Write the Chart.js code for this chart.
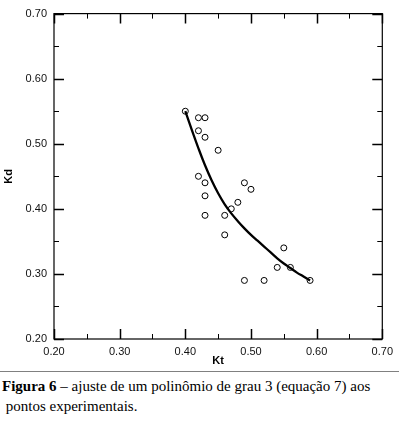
<!DOCTYPE html>
<html>
<head>
  <meta charset="utf-8">
  <title>Figura 6 - Kd x Kt</title>
  <script src="https://cdn.jsdelivr.net/npm/chart.js"></script>
  <style>
    body {
      margin: 0;
      background: #fff;
      width: 399px;
      height: 421px;
      overflow: hidden;
    }
    .chart-box {
      position: relative;
      width: 399px;
      height: 370px;
    }
    .rule {
      position: absolute;
      left: 0;
      top: 371px;
      width: 399px;
      height: 0;
      border-top: 1px solid #808080;
    }
    .caption {
      position: absolute;
      left: 2px;
      top: 376px;
      font-family: 'Liberation Serif', 'Times New Roman', 'DejaVu Serif', serif;
      font-size: 15px;
      line-height: 20px;
      color: #000;
      white-space: nowrap;
    }
  </style>
</head>
<body>
<div class="chart-box">
  <canvas id="fitChart"></canvas>
</div>
<div class="rule"></div>
<div class="caption">
  <b>Figura 6</b> – ajuste de um polinômio de grau 3 (equação 7) aos<br>
  &nbsp;pontos experimentais.
</div>

<script>
  // experimental points (Kt, Kd)
  const kt = [0.40, 0.42, 0.43, 0.42, 0.43, 0.45, 0.42, 0.43, 0.49, 0.50, 0.43,
              0.48, 0.47, 0.43, 0.46, 0.46, 0.55, 0.54, 0.56, 0.49, 0.52, 0.59];
  const kd = [0.55, 0.54, 0.54, 0.52, 0.51, 0.49, 0.45, 0.44, 0.44, 0.43, 0.42,
              0.41, 0.40, 0.39, 0.39, 0.36, 0.34, 0.31, 0.31, 0.29, 0.29, 0.29];

  // fitted 3rd degree polynomial
  const fitKt = [0.40, 0.41, 0.42, 0.43, 0.44, 0.45, 0.46, 0.47, 0.48, 0.49,
                 0.50, 0.51, 0.52, 0.53, 0.54, 0.55, 0.56, 0.57, 0.58, 0.59];
  const fitKd = [0.550, 0.521, 0.493, 0.467, 0.444, 0.424, 0.407, 0.393, 0.381, 0.370,
                 0.360, 0.351, 0.342, 0.333, 0.324, 0.316, 0.309, 0.302, 0.296, 0.290];

  const axisMin = 0.20;
  const axisMax = 0.70;

  const points = kt.map((x, i) => ({ x: x, y: kd[i] }));
  const curve = fitKt.map((x, i) => ({ x: x, y: fitKd[i] }));

  function isMajor(v) {
    return Math.abs(Math.round(v * 10) - v * 10) < 1e-6;
  }

  // frame + inward ticks on all four sides
  const framePlugin = {
    id: 'frame',
    afterDatasetsDraw(chart) {
      const ctx = chart.ctx;
      const a = chart.chartArea;
      const xs = chart.scales.x;
      const ys = chart.scales.y;
      ctx.save();
      ctx.strokeStyle = '#000';
      ctx.lineWidth = 1.2;
      ctx.strokeRect(a.left, a.top, a.right - a.left, a.bottom - a.top);
      xs.ticks.forEach(t => {
        const len = isMajor(t.value) ? 10 : 5;
        const px = Math.round(xs.getPixelForValue(t.value)) + 0.5;
        ctx.lineWidth = isMajor(t.value) ? 1.5 : 1;
        ctx.beginPath();
        ctx.moveTo(px, a.bottom); ctx.lineTo(px, a.bottom - len);
        ctx.moveTo(px, a.top); ctx.lineTo(px, a.top + len);
        ctx.stroke();
      });
      ys.ticks.forEach(t => {
        const len = isMajor(t.value) ? 10 : 5;
        const py = Math.round(ys.getPixelForValue(t.value)) + 0.5;
        ctx.lineWidth = isMajor(t.value) ? 1.5 : 1;
        ctx.beginPath();
        ctx.moveTo(a.left, py); ctx.lineTo(a.left + len, py);
        ctx.moveTo(a.right, py); ctx.lineTo(a.right - len, py);
        ctx.stroke();
      });
      ctx.restore();
    }
  };

  function tickLabel(value) {
    return isMajor(value) ? value.toFixed(2) : '';
  }

  const ctxFit = document.getElementById('fitChart').getContext('2d');
  const fitChart = new Chart(ctxFit, {
    type: 'scatter',
    data: {
      datasets: [
        {
          label: 'pontos experimentais',
          data: points,
          showLine: false,
          pointStyle: 'circle',
          pointRadius: 3,
          pointBorderWidth: 1,
          pointBorderColor: '#000',
          pointBackgroundColor: 'rgba(255,255,255,0)'
        },
        {
          label: 'polinômio de grau 3',
          data: curve,
          showLine: true,
          borderColor: '#000',
          borderWidth: 2.3,
          pointRadius: 0,
          tension: 0.4
        }
      ]
    },
    options: {
      responsive: true,
      maintainAspectRatio: false,
      animation: false,
      layout: {
        padding: { top: 6, right: 11, left: 0, bottom: 0 }
      },
      plugins: {
        legend: { display: false },
        tooltip: { enabled: false }
      },
      scales: {
        x: {
          type: 'linear',
          min: axisMin,
          max: axisMax,
          afterFit(scale) { scale.height = 31; },
          grid: { display: false, drawTicks: false },
          border: { display: false },
          ticks: {
            stepSize: 0.05,
            autoSkip: false,
            maxRotation: 0,
            padding: 6,
            color: '#111',
            font: { family: "'Liberation Sans', Arial, sans-serif", size: 11 },
            callback: tickLabel
          },
          title: {
            display: true,
            text: 'Kt',
            color: '#000',
            padding: { top: 0, bottom: 2 },
            font: { family: "'Liberation Sans', Arial, sans-serif", size: 11, weight: 'bold' }
          }
        },
        y: {
          type: 'linear',
          min: axisMin,
          max: axisMax,
          afterFit(scale) { scale.width = 54; },
          grid: { display: false, drawTicks: false },
          border: { display: false },
          ticks: {
            stepSize: 0.05,
            autoSkip: false,
            padding: 7,
            color: '#111',
            font: { family: "'Liberation Sans', Arial, sans-serif", size: 11 },
            callback: tickLabel
          },
          title: {
            display: true,
            text: 'Kd',
            color: '#000',
            padding: { top: 2, bottom: 0 },
            font: { family: "'Liberation Sans', Arial, sans-serif", size: 11, weight: 'bold' }
          }
        }
      }
    },
    plugins: [framePlugin]
  });
</script>
</body>
</html>
